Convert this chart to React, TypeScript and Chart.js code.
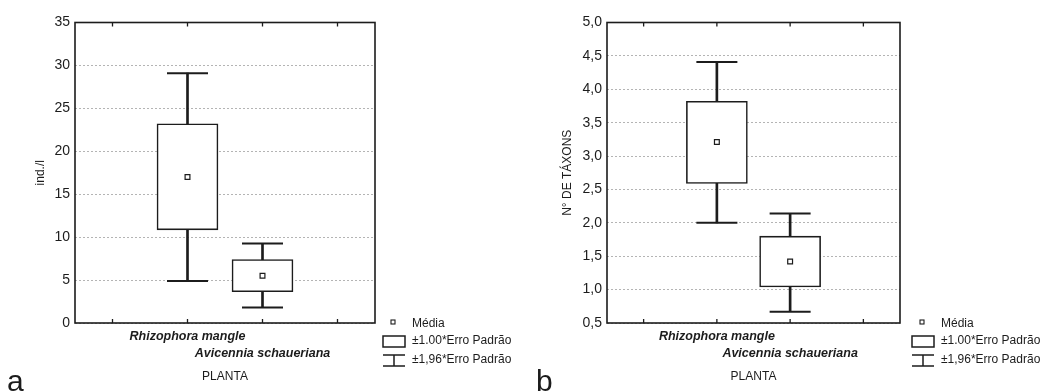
import React, { useEffect, useRef } from 'react';
import { Chart, registerables } from 'chart.js';

Chart.register(...registerables);

// ---- data ----
const categories = ['Rhizophora mangle', 'Avicennia schaueriana'];

// panel a: ind./l
const densMean = [17.0, 5.5];
const densSeLow = [10.85, 3.65];
const densSeHigh = [23.2, 7.4];
const densCiLow = [4.9, 1.8];
const densCiHigh = [29.1, 9.25];

// panel b: N° de táxons
const taxaMean = [3.21, 1.42];
const taxaSeLow = [2.59, 1.04];
const taxaSeHigh = [3.82, 1.8];
const taxaCiLow = [2.0, 0.67];
const taxaCiHigh = [4.41, 2.14];

const legendLabels = ['Média', '±1.00*Erro Padrão', '±1,96*Erro Padrão'];
const xTitle = 'PLANTA';
const panelLetters = ['a', 'b'];

const FONT = '"Liberation Sans", Arial, sans-serif';
const INK = '#1c1c1c';

// category slots: empty, cat1, cat2, empty
const pad = (arr: any[]) => [null, ...arr, null];
const xLabels: any[] = ['', [categories[0], ''], ['', categories[1]], ''];

const framePlugin = {
  id: 'frame',
  afterDatasetsDraw(chart: any) {
    const { ctx, chartArea, scales } = chart;
    const { left, right, top, bottom } = chartArea;
    ctx.save();
    ctx.strokeStyle = INK;
    ctx.lineWidth = 1.6;
    ctx.strokeRect(left, top, right - left, bottom - top);
    ctx.lineWidth = 1.3;
    const n = chart.data.labels.length;
    ctx.beginPath();
    for (let i = 0; i < n; i++) {
      const px = scales.x.getPixelForTick(i);
      ctx.moveTo(px, top);
      ctx.lineTo(px, top + 4);
      ctx.moveTo(px, bottom);
      ctx.lineTo(px, bottom - 4);
    }
    ctx.stroke();
    ctx.restore();
  },
};

const boxLegendPlugin = {
  id: 'boxLegend',
  afterDraw(chart: any, _args: any, opts: any) {
    const { ctx, chartArea } = chart;
    const { right, bottom } = chartArea;
    const sx = right + (opts.offset ?? 8);
    const w = 22;
    const tx = sx + 29;
    ctx.save();
    ctx.strokeStyle = INK;
    // mean marker
    const mx = sx + 10;
    const my = bottom - 1;
    ctx.lineWidth = 1.1;
    ctx.fillStyle = '#fff';
    ctx.fillRect(mx - 2, my - 2, 4, 4);
    ctx.strokeRect(mx - 2, my - 2, 4, 4);
    // box
    ctx.lineWidth = 1.5;
    ctx.strokeRect(sx, bottom + 13, w, 11);
    // whisker
    ctx.beginPath();
    ctx.moveTo(sx, bottom + 32);
    ctx.lineTo(sx + w, bottom + 32);
    ctx.moveTo(sx + w / 2, bottom + 32);
    ctx.lineTo(sx + w / 2, bottom + 43);
    ctx.moveTo(sx, bottom + 43);
    ctx.lineTo(sx + w, bottom + 43);
    ctx.stroke();
    // text
    ctx.fillStyle = INK;
    ctx.font = `12px ${FONT}`;
    ctx.textAlign = 'left';
    ctx.textBaseline = 'middle';
    ctx.fillText(legendLabels[0], tx, bottom + 1);
    ctx.fillText(legendLabels[1], tx, bottom + 18);
    ctx.fillText(legendLabels[2], tx, bottom + 37);
    ctx.restore();
  },
};

type Spec = {
  mean: number[];
  seLow: number[];
  seHigh: number[];
  ciLow: number[];
  ciHigh: number[];
  min: number;
  max: number;
  step: number;
  yTitle: string;
  comma: boolean;
  yWidth: number;
  rightPad: number;
  legendOffset: number;
};

function makeConfig(s: Spec): any {
  return {
    type: 'bar',
    data: {
      labels: xLabels,
      datasets: [
        {
          type: 'bar',
          label: 'whisker',
          data: pad(s.ciLow.map((v, i) => [v, s.ciHigh[i]])),
          backgroundColor: INK,
          borderWidth: 0,
          barThickness: 2,
          grouped: false,
          order: 4,
        },
        {
          type: 'bar',
          label: 'box',
          data: pad(s.seLow.map((v, i) => [v, s.seHigh[i]])),
          backgroundColor: '#ffffff',
          borderColor: INK,
          borderWidth: 1.6,
          borderSkipped: false,
          barThickness: 61,
          grouped: false,
          order: 3,
        },
        {
          type: 'line',
          label: 'capHigh',
          data: pad(s.ciHigh),
          showLine: false,
          pointStyle: 'line',
          pointRadius: 20.5,
          borderColor: INK,
          borderWidth: 2,
          order: 2,
        },
        {
          type: 'line',
          label: 'capLow',
          data: pad(s.ciLow),
          showLine: false,
          pointStyle: 'line',
          pointRadius: 20.5,
          borderColor: INK,
          borderWidth: 2,
          order: 2,
        },
        {
          type: 'line',
          label: 'mean',
          data: pad(s.mean),
          showLine: false,
          pointStyle: 'rect',
          pointRadius: 3.4,
          pointBackgroundColor: '#ffffff',
          pointBorderColor: INK,
          pointBorderWidth: 1.2,
          order: 1,
        },
      ],
    },
    options: {
      responsive: false,
      animation: false,
      devicePixelRatio: 1,
      layout: { padding: { left: 0, top: 20, right: s.rightPad, bottom: 0 } },
      plugins: {
        legend: { display: false },
        tooltip: { enabled: false },
        boxLegend: { offset: s.legendOffset },
      },
      scales: {
        x: {
          type: 'category',
          offset: true,
          grid: { display: false },
          border: { display: false },
          afterFit: (sc: any) => {
            sc.height = 69;
          },
          ticks: {
            autoSkip: false,
            maxRotation: 0,
            minRotation: 0,
            padding: -2.5,
            color: INK,
            font: { family: FONT, size: 12.5, style: 'italic', weight: 'bold', lineHeight: 17 / 12.5 },
          },
          title: {
            display: true,
            text: xTitle,
            color: INK,
            font: { family: FONT, size: 12 },
            padding: { top: 0, bottom: 8 },
          },
        },
        y: {
          type: 'linear',
          min: s.min,
          max: s.max,
          afterFit: (sc: any) => {
            sc.width = s.yWidth;
          },
          grid: { color: '#b4b4b4', lineWidth: 1, drawTicks: false },
          border: { display: false, dash: [2, 2] },
          ticks: {
            stepSize: s.step,
            padding: 5,
            color: INK,
            font: { family: FONT, size: 14 },
            callback: (v: any) =>
              s.comma ? Number(v).toFixed(1).replace('.', ',') : String(v),
          },
          title: {
            display: true,
            text: s.yTitle,
            color: INK,
            font: { family: FONT, size: 12 },
            padding: { top: 33.8, bottom: 0 },
          },
        },
      },
    },
    plugins: [framePlugin, boxLegendPlugin],
  };
}

const specA: Spec = {
  mean: densMean,
  seLow: densSeLow,
  seHigh: densSeHigh,
  ciLow: densCiLow,
  ciHigh: densCiHigh,
  min: 0,
  max: 35,
  step: 5,
  yTitle: 'ind./l',
  comma: false,
  yWidth: 75,
  rightPad: 152,
  legendOffset: 8,
};

const specB: Spec = {
  mean: taxaMean,
  seLow: taxaSeLow,
  seHigh: taxaSeHigh,
  ciLow: taxaCiLow,
  ciHigh: taxaCiHigh,
  min: 0.5,
  max: 5.0,
  step: 0.5,
  yTitle: 'N° DE TÁXONS',
  comma: true,
  yWidth: 80,
  rightPad: 154,
  legendOffset: 12,
};

function Panel({ spec, left }: { spec: Spec; left: number }) {
  const ref = useRef<HTMLCanvasElement>(null);
  useEffect(() => {
    const chart = new Chart(ref.current as HTMLCanvasElement, makeConfig(spec));
    return () => chart.destroy();
  }, [spec]);
  return (
    <canvas
      ref={ref}
      width={527}
      height={392}
      style={{ position: 'absolute', left, top: 0, width: 527, height: 392 }}
    />
  );
}

export default function App() {
  const letterStyle = (left: number): React.CSSProperties => ({
    position: 'absolute',
    left,
    top: 365.6,
    fontFamily: FONT,
    fontSize: 30,
    lineHeight: '30px',
    color: INK,
  });
  return (
    <div
      style={{
        position: 'absolute',
        left: 0,
        top: 0,
        width: 1054,
        height: 392,
        background: '#ffffff',
        overflow: 'hidden',
      }}
    >
      <Panel spec={specA} left={0} />
      <Panel spec={specB} left={527} />
      <div style={letterStyle(7)}>{panelLetters[0]}</div>
      <div style={letterStyle(536)}>{panelLetters[1]}</div>
    </div>
  );
}
